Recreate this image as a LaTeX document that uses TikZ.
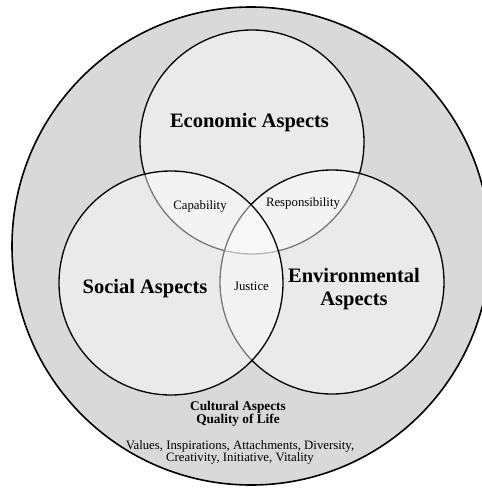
\documentclass[tikz,border=0pt]{standalone}
\usepackage{fontspec}
\setmainfont{Liberation Serif}
\usepackage{tikz}
\definecolor{culturegray}{RGB}{217,217,217}
\tikzset{
	aspect/.style={circle, draw=black, line width=1.3pt, fill=white, fill opacity=0.47, minimum size=224pt, inner sep=0pt},
	bigname/.style={font=\fontsize{20.5pt}{23pt}\selectfont\bfseries, align=center, inner sep=0pt},
	smallname/.style={font=\fontsize{12.8pt}{12pt}\selectfont, align=center, inner sep=0pt},
}

\begin{document}
\begin{tikzpicture}[x=1pt, y=-1pt]% {{{ Venn
	\useasboundingbox (0,0) rectangle (482,488);
	\clip (0,0) rectangle (482,488);
	\fill[white] (0,0) rectangle (482,488);
	\node[circle, draw=black, line width=1.6pt, fill=culturegray, minimum size=478pt, inner sep=0pt] (culture) at (251,246) {};

	% economic at the bottom, social on top
	\node[aspect] (econ) at (252,142) {};
	\node[aspect] (envi) at (332,282) {};
	\node[aspect] (soci) at (171,283) {};

	\node[bigname, anchor=base] (econname) at (249.5,127.7) {Economic Aspects};
	\node[bigname, anchor=base] (sociname) at (145,293.3) {Social Aspects};
	\node[bigname] (enviname) at (354,289) {Environmental\\Aspects};

	\node[smallname, anchor=base] (capname) at (200,209) {Capability};
	\node[smallname, anchor=base] (respname) at (303,206) {Responsibility};
	\node[smallname, anchor=base] (justname) at (251.5,290.7) {Justice};

	\node[font=\fontsize{13.3pt}{13.3pt}\selectfont\bfseries, align=center, inner sep=0pt] (cultname) at (238,414) {Cultural Aspects\\Quality of Life};
	\node[smallname] (valuename) at (240,452.5) {Values, Inspirations, Attachments, Diversity,\\Creativity, Initiative, Vitality};
\end{tikzpicture}% }}}
\end{document}
